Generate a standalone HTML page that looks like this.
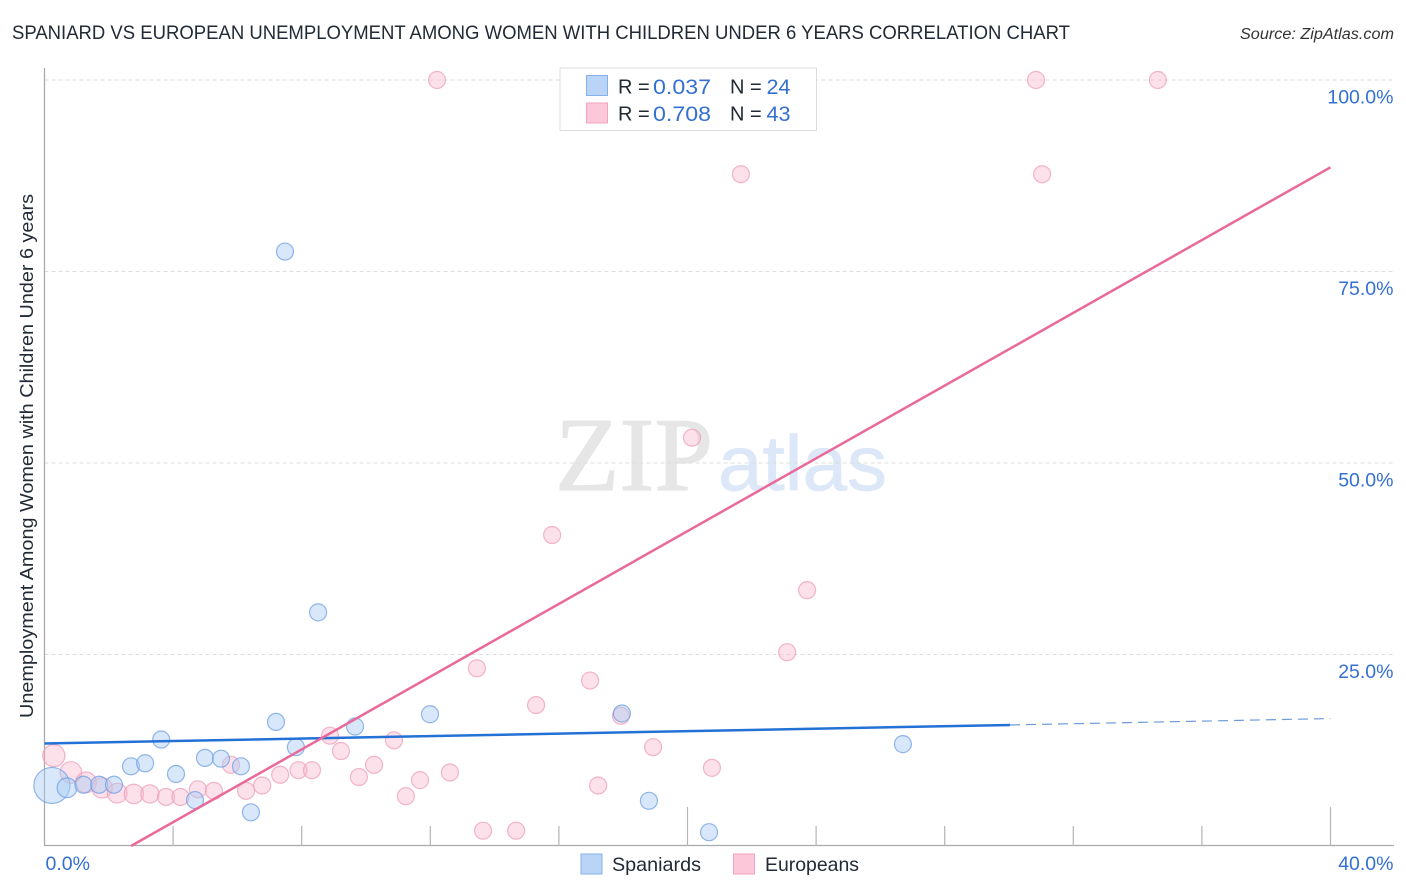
<!DOCTYPE html>
<html lang="en">
<head>
<meta charset="utf-8">
<title>Spaniard vs European Unemployment Chart</title>
<style>
html,body{margin:0;padding:0;background:#fff;}
svg{display:block;font-family:"Liberation Sans",sans-serif;}
</style>
</head>
<body>
<svg id="chart" width="1406" height="892" viewBox="0 0 1406 892" xmlns="http://www.w3.org/2000/svg">
  <rect x="0" y="0" width="1406" height="892" fill="#fff"/>
  <text x="12" y="39" font-size="19" fill="#222a35" textLength="1058" lengthAdjust="spacingAndGlyphs">SPANIARD VS EUROPEAN UNEMPLOYMENT AMONG WOMEN WITH CHILDREN UNDER 6 YEARS CORRELATION CHART</text>
  <text x="1394" y="39" font-size="15.5" font-style="italic" fill="#333" text-anchor="end" textLength="154" lengthAdjust="spacingAndGlyphs">Source: ZipAtlas.com</text>
  <g id="watermark">
    <text x="555" y="490" font-family="'Liberation Serif',serif" font-size="105" fill="#e6e6e6" stroke="#e6e6e6" stroke-width="1.2" textLength="158" lengthAdjust="spacingAndGlyphs">ZIP</text>
    <text x="718" y="490" font-size="78" fill="#dce8f8" stroke="#dce8f8" stroke-width="0.8" textLength="169" lengthAdjust="spacingAndGlyphs">atlas</text>
  </g>
  <g id="grid"></g>
  <g id="axes"></g>
  <g id="europeans"></g>
  <g id="spaniards"></g>
  <g id="trends"></g>
  <g id="tickLabels"></g>
  <text transform="translate(33 456) rotate(-90)" font-size="18.5" fill="#222a35" text-anchor="middle" textLength="524" lengthAdjust="spacingAndGlyphs">Unemployment Among Women with Children Under 6 years</text>

  <g>
    <rect x="560" y="68" width="256.5" height="62.5" fill="#fff" stroke="#dcdcdc" stroke-width="1"/>
    <rect x="586.5" y="75.5" width="21" height="20" fill="#b9d4f7" stroke="#86b0e8" stroke-width="1"/>
    <rect x="586.5" y="103" width="21" height="20" fill="#fcc8d9" stroke="#f0a3bd" stroke-width="1"/>
    <g font-size="20" fill="#222a35">
      <text x="618" y="93.5">R =</text>
      <text x="730" y="93.5">N =</text>
      <text x="618" y="120.5">R =</text>
      <text x="730" y="120.5">N =</text>
    </g>
    <g font-size="21.5" fill="#3470d2">
      <text x="653" y="94" textLength="58" lengthAdjust="spacingAndGlyphs">0.037</text>
      <text x="766.5" y="94" textLength="24" lengthAdjust="spacingAndGlyphs">24</text>
      <text x="653" y="121" textLength="58" lengthAdjust="spacingAndGlyphs">0.708</text>
      <text x="766.5" y="121" textLength="24" lengthAdjust="spacingAndGlyphs">43</text>
    </g>
  </g>

  <g>
    <rect x="581" y="854" width="21" height="20" fill="#b9d4f7" stroke="#86b0e8" stroke-width="1"/>
    <text x="612" y="871" font-size="19.5" fill="#222a35" textLength="89" lengthAdjust="spacingAndGlyphs">Spaniards</text>
    <rect x="733.5" y="854" width="21" height="20" fill="#fcc8d9" stroke="#f0a3bd" stroke-width="1"/>
    <text x="765" y="871" font-size="19.5" fill="#222a35" textLength="94" lengthAdjust="spacingAndGlyphs">Europeans</text>
  </g>
</svg>
<script>
// Data (x and y in percent; weight scales marker area)
const spaniardsX = [0.23,0.70,1.21,1.70,2.16,2.69,3.13,3.63,4.09,4.68,4.99,5.49,6.11,6.42,7.20,7.48,7.82,8.51,9.66,11.99,17.96,18.80,20.67,26.70];
const spaniardsY = [7.9,7.6,8.0,8.0,8.0,10.4,10.8,13.9,9.4,6.0,11.5,11.4,10.4,4.4,16.2,77.6,12.9,30.5,15.6,17.2,17.3,5.9,1.8,13.3];
const spaniardsWeight = [4.5,1.35,1,1,1,1,1,1,1,1,1,1,1,1,1,1,1,1,1,1,1,1,1,1];

const europeansX = [0.29,0.82,1.29,1.79,2.26,2.78,3.28,3.78,4.23,4.77,5.27,5.80,6.27,6.77,7.33,7.90,8.32,8.88,9.22,9.78,10.25,10.87,11.24,11.68,12.61,12.21,13.45,13.64,14.67,15.29,15.79,16.97,17.22,17.93,18.93,20.14,20.76,21.66,23.10,23.72,30.84,31.03,34.63];
const europeansY = [11.8,9.6,8.3,7.6,6.9,6.8,6.8,6.4,6.4,7.4,7.2,10.6,7.2,7.9,9.3,9.9,9.9,14.4,12.4,9.0,10.6,13.8,6.5,8.6,9.6,100,23.2,2.0,2.0,18.4,40.6,21.6,7.9,17.0,12.9,53.3,10.2,87.7,25.3,33.4,100,87.7,100];
const europeansWeight = [1.7,1.6,1.5,1.45,1.35,1.3,1.15,1,1,1,1,1,1,1,1,1,1,1,1,1,1,1,1,1,1,1,1,1,1,1,1,1,1,1,1,1,1,1,1,1,1,1,1];

const spaniardsTrendX = [0,30.03,40];
const spaniardsTrendY = [13.38,15.8,16.64];
const europeansTrendX = [2.69,40];
const europeansTrendY = [0,88.6];

const xTickValues = [0,4,8,12,16,20,24,28,32,36,40];
const xTickMajor = [20,40];
const xTickLabels = ["0.0%","40.0%"];
const yTickValues = [25,50,75,100];
const yTickLabels = ["25.0%","50.0%","75.0%","100.0%"];

const NS = "http://www.w3.org/2000/svg";
function xScale(v){ return 44.5 + v * 32.15; }
function yScale(v){ return 846 - v * 7.66; }
function make(tag, attrs, parent){
  const el = document.createElementNS(NS, tag);
  for (const k in attrs) el.setAttribute(k, attrs[k]);
  parent.appendChild(el);
  return el;
}

const gridG = document.getElementById("grid");
const axesG = document.getElementById("axes");
const labelsG = document.getElementById("tickLabels");

yTickValues.forEach(function(v, i){
  const line = make("line", {x1:44.5, x2:1394, y1:yScale(v), y2:yScale(v), stroke:"#dddddd", "stroke-width":1, "stroke-dasharray":"4 3"}, gridG);
  
  
  const t = make("text", {x:1393.5, y:yScale(v)+23.5, "font-size":19.5, fill:"#3470d2", "text-anchor":"end"}, labelsG);
  t.textContent = yTickLabels[i];
  
  
});

const yAxis = make("line", {x1:44.5, x2:44.5, y1:68, y2:846, stroke:"#aaaaaa", "stroke-width":1.3}, axesG);


const xAxis = make("line", {x1:44, x2:1394, y1:845.5, y2:845.5, stroke:"#aaaaaa", "stroke-width":1.3}, axesG);



xTickValues.forEach(function(v){
  if (v === 0) return;
  const top = xTickMajor.indexOf(v) >= 0 ? 807 : 826;
  const tick = make("line", {x1:xScale(v), x2:xScale(v), y1:top, y2:846, stroke:"#b4b4b4", "stroke-width":1.2}, axesG);
  
  
});

const x0Label = make("text", {x:45.5, y:870, "font-size":19.5, fill:"#3470d2"}, labelsG);
x0Label.textContent = xTickLabels[0];


const x1Label = make("text", {x:1393.5, y:870, "font-size":19.5, fill:"#3470d2", "text-anchor":"end"}, labelsG);
x1Label.textContent = xTickLabels[1];



const europeansG = document.getElementById("europeans");
europeansX.forEach(function(v, i){
  const c = make("circle", {cx:xScale(v), cy:yScale(europeansY[i]), r:8.5*Math.sqrt(europeansWeight[i]), fill:"#f9b8cd", "fill-opacity":0.42, stroke:"#ee9db8", "stroke-opacity":0.75, "stroke-width":1.2}, europeansG);
  
  
});

const spaniardsG = document.getElementById("spaniards");
spaniardsX.forEach(function(v, i){
  const c = make("circle", {cx:xScale(v), cy:yScale(spaniardsY[i]), r:8.5*Math.sqrt(spaniardsWeight[i]), fill:"#a9cbf5", "fill-opacity":0.45, stroke:"#6f9fe3", "stroke-opacity":0.75, "stroke-width":1.2}, spaniardsG);
  
  
});

const trendsG = document.getElementById("trends");
const blueSolid = make("line", {x1:xScale(spaniardsTrendX[0]), y1:yScale(spaniardsTrendY[0]), x2:xScale(spaniardsTrendX[1]), y2:yScale(spaniardsTrendY[1]), stroke:"#2471d6", "stroke-width":2.5}, trendsG);


const blueDash = make("line", {x1:xScale(spaniardsTrendX[1]), y1:yScale(spaniardsTrendY[1]), x2:xScale(spaniardsTrendX[2]), y2:yScale(spaniardsTrendY[2]), stroke:"#6f9ad8", "stroke-width":1.2, "stroke-dasharray":"10 6"}, trendsG);


const pinkLine = make("line", {x1:xScale(europeansTrendX[0]), y1:yScale(europeansTrendY[0]), x2:xScale(europeansTrendX[1]), y2:yScale(europeansTrendY[1]), stroke:"#e9699a", "stroke-width":2.5}, trendsG);


</script>
</body>
</html>
